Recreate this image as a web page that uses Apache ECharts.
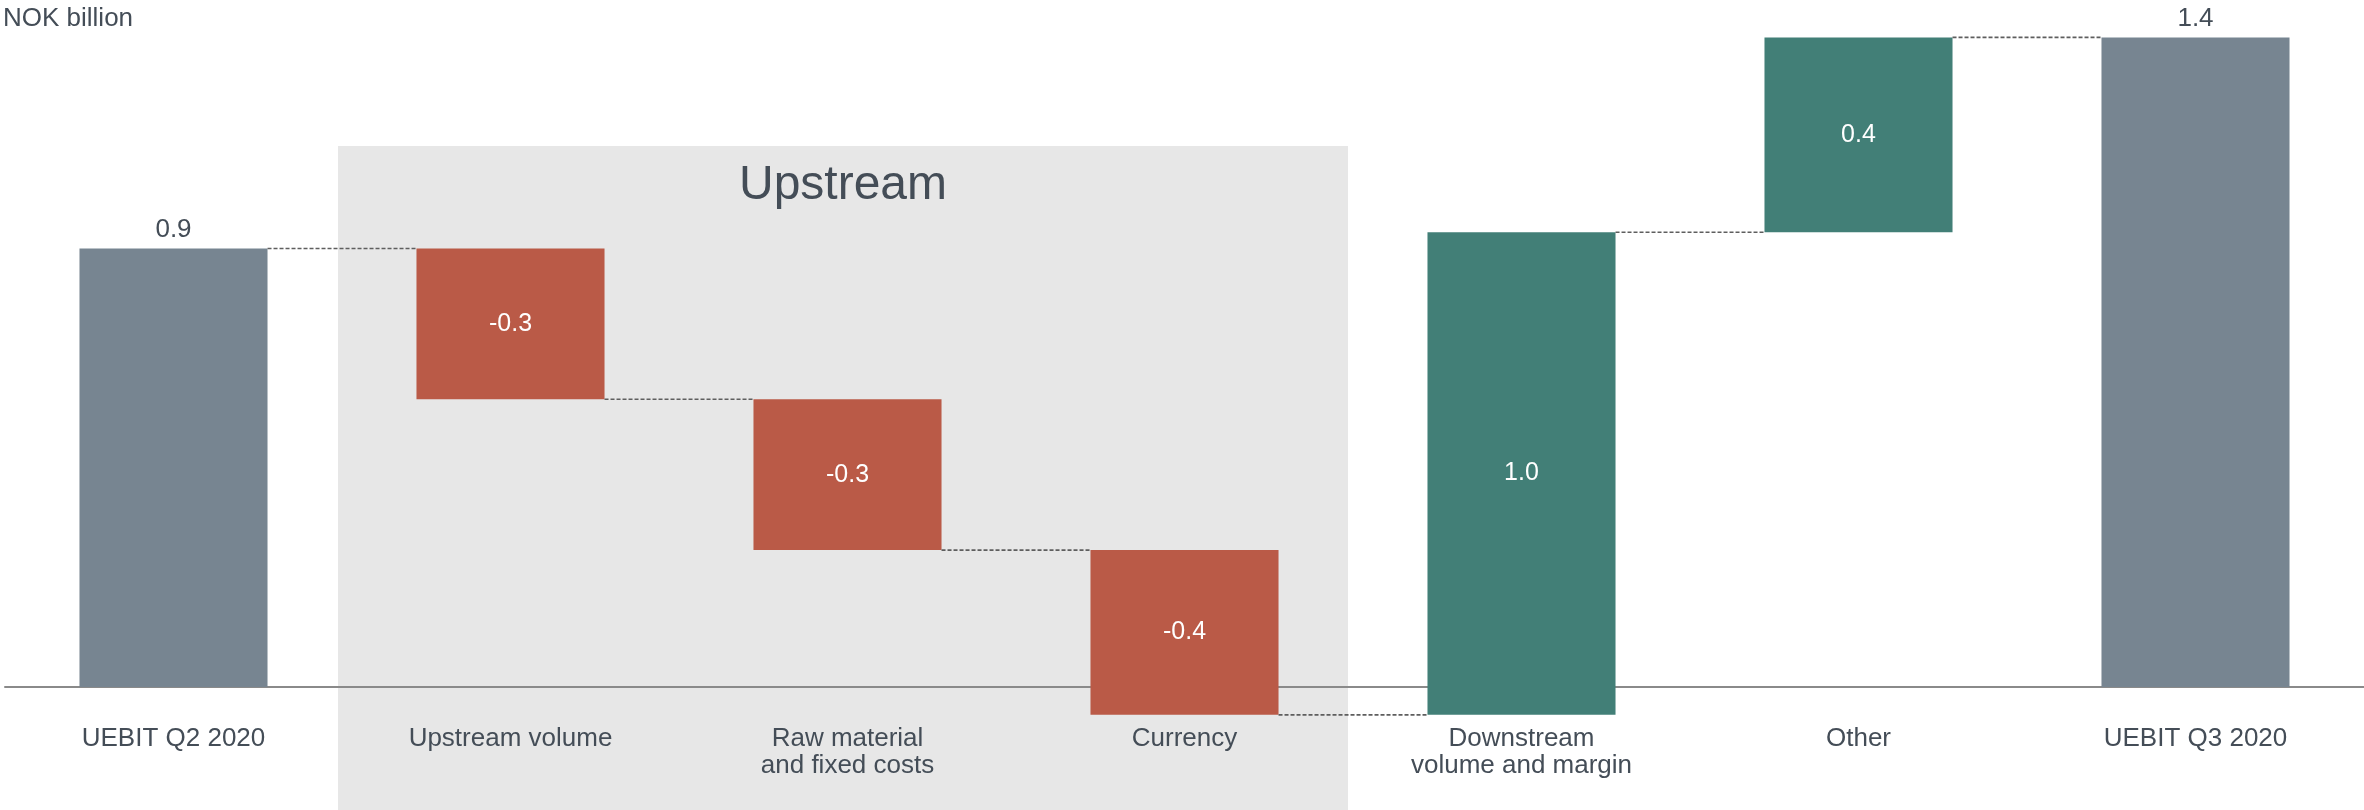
<!DOCTYPE html>
<html>
<head>
<meta charset="utf-8">
<style>
  html, body { margin: 0; padding: 0; background: #ffffff; }
  #chart { width: 2364px; height: 810px; }
</style>
<script src="https://cdn.jsdelivr.net/npm/echarts@6/dist/echarts.min.js"></script>
</head>
<body>
<div id="chart"></div>
<script>
// UEBIT bridge Q2 2020 -> Q3 2020, NOK billion
const categories = [
  'UEBIT Q2 2020',
  'Upstream volume',
  'Raw material\nand fixed costs',
  'Currency',
  'Downstream\nvolume and margin',
  'Other',
  'UEBIT Q3 2020'
];
const startValue = 0.945;                                 // UEBIT Q2 2020
const deltaValues = [-0.325, -0.325, -0.355, 1.04, 0.42]; // bridge steps
const endValue = 1.40;                                    // UEBIT Q3 2020
const unitLabel = 'NOK billion';
const groupLabel = 'Upstream';
const groupCategories = [1, 3];                           // first and last index of the Upstream group

const FONT = '"Liberation Sans", Arial, Helvetica, sans-serif';
const TEXT_DARK = '#444d57';
const COLOR_TOTAL = '#778591';
const COLOR_NEG = '#ba5a47';
const COLOR_POS = '#427f77';
const BAR_RATIO = 0.558;

// Floating bars: [index, low, high, value, isTotal]
const barRows = [];
const levels = [];
let running = startValue;
barRows.push([0, 0, startValue, startValue, 1]);
levels.push(running);
deltaValues.forEach((d, k) => {
  const before = running;
  running = running + d;
  barRows.push([k + 1, Math.min(before, running), Math.max(before, running), d, 0]);
  levels.push(running);
});
barRows.push([categories.length - 1, 0, endValue, endValue, 1]);

// Connectors: [index, level] joins bar index to bar index+1 at that level
const connectorRows = levels.map((lv, i) => [i, lv]);

const chart = echarts.init(document.getElementById('chart'), null, { renderer: 'canvas' });

function fmt(v) { return (Math.round(v * 10) / 10).toFixed(1); }

const option = {
  animation: false,
  backgroundColor: '#ffffff',
  title: {
    text: unitLabel,
    left: 3,
    top: 6,
    padding: 0,
    textStyle: { fontFamily: FONT, fontSize: 26, fontWeight: 'normal', color: TEXT_DARK }
  },
  // the zero line sits on the grid's bottom edge; the small dip below zero is drawn unclipped
  grid: {
    left: 5, right: 0, top: 14.2, bottom: 123,
    containLabel: false,
    outerBoundsMode: 'none'
  },
  xAxis: {
    type: 'category',
    data: categories,
    axisLine: { show: true, onZero: true, lineStyle: { color: '#8a8a8a', width: 2 } },
    axisTick: { show: false },
    axisLabel: {
      show: true,
      interval: 0,
      margin: 38,
      fontFamily: FONT,
      fontSize: 26,
      lineHeight: 27,
      color: TEXT_DARK,
      align: 'center'
    },
    splitLine: { show: false },
    z: 3
  },
  yAxis: {
    type: 'value',
    min: 0,
    max: 1.45,
    show: false,
    splitLine: { show: false }
  },
  series: [
    {
      type: 'custom',
      name: 'bars',
      z: 4,
      clip: false,
      encode: { x: 0, y: [1, 2] },
      data: barRows,
      renderItem: function (params, api) {
        const i = api.value(0);
        const lo = api.value(1);
        const hi = api.value(2);
        const v = api.value(3);
        const isTotal = api.value(4) === 1;
        const band = api.size([1, 0])[0];
        const w = band * BAR_RATIO;
        const pLo = api.coord([i, lo]);
        const pHi = api.coord([i, hi]);
        const fill = isTotal ? COLOR_TOTAL : (v < 0 ? COLOR_NEG : COLOR_POS);
        const cx = pLo[0];
        const label = isTotal
          ? { type: 'text', style: { text: fmt(v), x: cx, y: pHi[1] - 6, align: 'center', verticalAlign: 'bottom',
              font: '26px ' + FONT, fill: TEXT_DARK } }
          : { type: 'text', style: { text: fmt(v), x: cx, y: (pLo[1] + pHi[1]) / 2, align: 'center', verticalAlign: 'middle',
              font: '25px ' + FONT, fill: '#ffffff' } };
        return {
          type: 'group',
          children: [
            { type: 'rect', shape: { x: cx - w / 2, y: pHi[1], width: w, height: pLo[1] - pHi[1] }, style: { fill: fill } },
            label
          ]
        };
      }
    },
    {
      type: 'custom',
      name: 'connectors',
      z: 5,
      clip: false,
      encode: { x: 0, y: 1 },
      data: connectorRows,
      renderItem: function (params, api) {
        const i = api.value(0);
        const lv = api.value(1);
        const band = api.size([1, 0])[0];
        const w = band * BAR_RATIO;
        const a = api.coord([i, lv]);
        const b = api.coord([i + 1, lv]);
        return {
          type: 'line',
          shape: { x1: a[0] + w / 2, y1: a[1], x2: b[0] - w / 2, y2: b[1] },
          style: { stroke: '#5e5e5e', lineWidth: 1.6, lineDash: [4, 2] }
        };
      }
    }
  ]
};

chart.setOption(option);

// Shaded Upstream group behind the bars
const c0 = chart.convertToPixel({ xAxisIndex: 0 }, 0);
const c1 = chart.convertToPixel({ xAxisIndex: 0 }, 1);
const band = c1 - c0;
const gx1 = chart.convertToPixel({ xAxisIndex: 0 }, groupCategories[0]) - band / 2 - 4;
const gx2 = chart.convertToPixel({ xAxisIndex: 0 }, groupCategories[1]) + band / 2 - 5;
const gTop = 146;
chart.setOption({
  graphic: [
    {
      type: 'rect',
      z: -1,
      silent: true,
      shape: { x: gx1, y: gTop, width: gx2 - gx1, height: 810 - gTop },
      style: { fill: '#e7e7e7' }
    },
    {
      type: 'text',
      z: 1,
      silent: true,
      style: {
        text: groupLabel,
        x: (gx1 + gx2) / 2,
        y: 186,
        align: 'center',
        verticalAlign: 'middle',
        font: '48px ' + FONT,
        fill: TEXT_DARK
      }
    }
  ]
});
</script>
</body>
</html>
